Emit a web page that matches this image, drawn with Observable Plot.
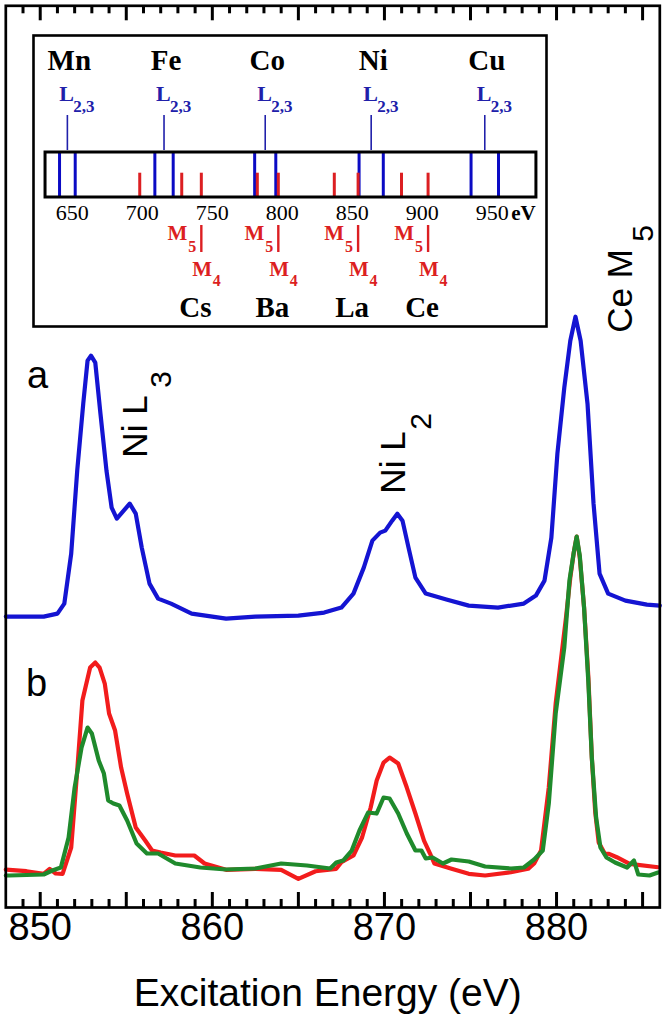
<!DOCTYPE html>
<html><head><meta charset="utf-8">
<script src="https://cdn.jsdelivr.net/npm/d3@7"></script>
<script src="https://cdn.jsdelivr.net/npm/@observablehq/plot@0.6"></script>
<style>
body{margin:0;background:#fff}
#wrap{position:relative;width:668px;height:1020px;overflow:hidden}
#wrap svg{position:absolute;left:0;top:0;display:block}
</style></head><body><div id="wrap"></div>
<script>
// ---- spectra: [energy (eV), intensity (arb.)] ----
const curveA = [[848.0,291],[848.2,291],[850.2,291],[851.0,294],[851.4,304],[851.8,354],[852.15,437],[852.5,504],[852.75,547],[852.95,552],[853.2,545],[853.5,494],[853.85,437],[854.15,400],[854.45,389],[854.75,395],[855.2,404],[855.55,394],[855.9,360],[856.35,324],[856.85,309],[857.6,304],[858.8,294],[860.8,289],[862.5,291],[865.0,292],[866.5,295],[867.5,300],[868.2,314],[868.8,340],[869.3,367],[869.75,375],[870.05,377],[870.45,387],[870.75,394],[871.05,387],[871.4,360],[871.8,330],[872.4,314],[873.6,308],[874.9,302],[876.6,300],[878.1,304],[878.8,312],[879.3,327],[879.7,370],[880.05,454],[880.45,520],[880.8,567],[881.1,591],[881.4,567],[881.8,504],[882.15,404],[882.5,334],[883.0,314],[884.0,307],[885.25,303],[886.0,302]];
const curveBred = [[848.0,38],[848.2,37.7],[849.2,36.3],[850.2,33.7],[850.55,38.7],[850.9,34],[851.3,33.7],[851.8,60],[852.15,137],[852.45,207],[852.9,240],[853.2,245],[853.45,240],[853.75,224],[854.0,194],[854.35,177],[854.7,140],[855.05,114],[855.55,80],[856.1,67],[856.5,57],[857.0,55],[857.85,52],[858.95,52],[859.55,44],[860.8,37.7],[862.5,38.7],[864.0,37.7],[865.0,28.7],[866.0,36.3],[867.2,38.7],[867.5,45.3],[868.2,52],[868.7,70],[869.2,100],[869.55,127],[869.95,145],[870.3,150],[870.8,144],[871.3,120],[871.8,94],[872.3,67],[872.65,54],[872.9,44],[873.9,38.7],[874.9,33.7],[875.85,32],[877.35,35.3],[878.35,38.7],[878.7,44],[879.1,57],[879.55,120],[879.95,204],[880.3,254],[880.55,290],[880.8,330],[881.0,355],[881.17,371],[881.35,350],[881.6,300],[881.85,230],[882.05,150],[882.25,95],[882.45,65],[882.8,54],[883.05,53.7],[883.5,50.3],[884.25,43.7],[885.9,40.3]];
const curveBgreen = [[848.0,32],[848.2,32],[850.2,33],[850.7,37],[851.2,40],[851.65,70],[852.0,120],[852.4,160],[852.75,180],[853.0,174],[853.4,147],[853.7,134],[853.95,107],[854.25,104],[854.6,102],[855.05,87],[855.6,64],[856.2,54],[856.85,54],[857.85,44],[859.3,40],[860.8,38],[862.5,39],[864.0,44],[865.5,42],[866.85,39],[867.2,45],[867.6,47],[868.1,57],[868.55,77],[869.05,95],[869.55,94],[869.95,110],[870.3,109],[870.8,94],[871.3,74],[871.8,57],[872.15,57],[872.4,49],[872.8,50],[873.4,44],[873.9,48],[874.9,46],[875.85,41],[877.35,39],[878.1,40],[878.7,48],[879.2,57],[879.55,104],[879.95,194],[880.45,260],[880.75,327],[881.0,355],[881.17,371],[881.35,352],[881.6,300],[881.85,225],[882.05,150],[882.3,90],[882.55,60],[882.9,50],[883.4,45],[884.1,40],[884.5,47],[884.75,33],[885.4,32],[885.9,35]];

// ---- main axis ----
const xDomain = [848, 886];
const yDomain = [0, 902];
const tickLabels = [850, 860, 870, 880];
const majorTicks = [850, 855, 860, 865, 870, 875, 880, 885];
const minorTicks = [849, 851, 852, 853, 854, 856, 857, 858, 859, 861, 862, 863, 864, 866, 867, 868, 869, 871, 872, 873, 874, 876, 877, 878, 879, 881, 882, 883, 884];
const axisTitle = "Excitation Energy (eV)";
const panelLabels = [{e: 849.23, v: 520, t: "a"}, {e: 849.17, v: 212, t: "b"}];
const peakLabels = [{e: 856.23, v: 450, t: "Ni L"}, {e: 871.17, v: 414, t: "Ni L"}, {e: 884.36, v: 575, t: "Ce M"}];
const peakSubs = [{e: 857.57, v: 520, t: "3"}, {e: 872.68, v: 478, t: "2"}, {e: 885.58, v: 666, t: "5"}];

// ---- inset: absorption edges ----
const tmNames = ["Mn", "Fe", "Co", "Ni", "Cu"];
const tmL3 = [638.7, 706.8, 778.1, 852.7, 932.7];
const tmL2 = [649.9, 719.9, 793.2, 870.0, 952.3];
const reNames = ["Cs", "Ba", "La", "Ce"];
const reM5 = [726, 780, 835, 883];
const reM4 = [740, 795, 852, 902];
const extraM = [696];
const insetTicks = [650, 700, 750, 800, 850, 900, 950];
const barSpan = [628.7, 979.4];

const sans = "'Liberation Sans', Arial, Helvetica, sans-serif";
const serif = "'Liberation Serif', 'Times New Roman', Times, serif";
const cBlue = "#1414d2", cRed = "#f21c1c", cGreen = "#1f8a2c";
const cEdgeBlue = "#0b0bc4", cTextBlue = "#2020aa", cEdgeRed = "#dc1f22";
const cTick = "#000";

const yTop = yDomain[1];
const main = Plot.plot({
  width: 668, height: 1020,
  marginTop: 5.3, marginBottom: 113, marginLeft: 5.3, marginRight: 8.7,
  x: {domain: xDomain, axis: null},
  y: {domain: yDomain, axis: null},
  style: {fontFamily: sans, background: "white", color: "black"},
  marks: [
    Plot.line(curveBred, {x: d => d[0], y: d => d[1], stroke: cRed, strokeWidth: 4.2, strokeLinejoin: "round"}),
    Plot.line(curveBgreen, {x: d => d[0], y: d => d[1], stroke: cGreen, strokeWidth: 4.2, strokeLinejoin: "round"}),
    Plot.line(curveA, {x: d => d[0], y: d => d[1], stroke: cBlue, strokeWidth: 4.2, strokeLinejoin: "round"}),
    Plot.frame({stroke: "#000", strokeWidth: 2.7}),
    Plot.ruleX(minorTicks, {x: d => d, y1: 0, y2: 8, stroke: cTick, strokeWidth: 3}),
    Plot.ruleX(minorTicks, {x: d => d, y1: yTop - 8, y2: yTop, stroke: cTick, strokeWidth: 3}),
    Plot.ruleX(majorTicks, {x: d => d, y1: 0, y2: 15, stroke: cTick, strokeWidth: 3}),
    Plot.ruleX(majorTicks, {x: d => d, y1: yTop - 15, y2: yTop, stroke: cTick, strokeWidth: 3}),
    Plot.text(tickLabels, {x: d => d, text: d => String(d), frameAnchor: "bottom", dy: 6, lineAnchor: "top", fontSize: 38, fill: "#000"}),
    Plot.text([axisTitle], {text: d => d, frameAnchor: "bottom", dy: 98, dx: -5, lineAnchor: "bottom", fontSize: 39, fill: "#000"}),
    Plot.text(panelLabels, {x: "e", y: "v", text: "t", textAnchor: "start", lineAnchor: "bottom", fontSize: 38, fill: "#000"}),
    Plot.text(peakLabels, {x: "e", y: "v", text: "t", rotate: -90, textAnchor: "start", lineAnchor: "bottom", fontSize: 35, fill: "#000"}),
    Plot.text(peakSubs, {x: "e", y: "v", text: "t", rotate: -90, textAnchor: "start", lineAnchor: "bottom", fontSize: 30, fill: "#000"})
  ]
});

const stick = i => (tmL3[i] + tmL2[i]) / 2;
const idx5 = d3.range(tmNames.length);
const idx4 = d3.range(reNames.length);
const bold = {fontWeight: "bold", lineAnchor: "bottom"};

const inset = Plot.plot({
  width: 668, height: 340,
  marginTop: 35, marginBottom: 14, marginLeft: 33, marginRight: 122,
  x: {domain: [620.1, 986.6], range: [33, 546], axis: null},
  y: {domain: [0, 291], range: [35, 326], axis: null},
  style: {fontFamily: serif, background: "none", overflow: "visible"},
  marks: [
    Plot.frame({fill: "white", stroke: "#000", strokeWidth: 2.6}),
    Plot.ruleX(tmL3.concat(tmL2), {x: d => d, y1: 117, y2: 162, stroke: cEdgeBlue, strokeWidth: 3}),
    Plot.ruleX(extraM.concat(reM5, reM4), {x: d => d, y1: 137.7, y2: 162, stroke: cEdgeRed, strokeWidth: 3}),
    Plot.rect([barSpan], {x1: d => d[0], x2: d => d[1], y1: 117, y2: 162, fill: "none", stroke: "#000", strokeWidth: 3}),
    Plot.ruleX(idx5, {x: i => stick(i), y1: 80, y2: 115, stroke: cTextBlue, strokeWidth: 1.6}),
    Plot.text(idx5, {x: i => stick(i), y: 34.3, text: i => tmNames[i], dx: 2, fontSize: 29, fill: "#000", textAnchor: "middle", ...bold}),
    Plot.text(idx5, {x: i => stick(i), y: 65.7, text: () => "L", dx: -8, fontSize: 22, fill: cTextBlue, textAnchor: "start", ...bold}),
    Plot.text(idx5, {x: i => stick(i), y: 76, text: () => "2,3", dx: 6, fontSize: 17, fill: cTextBlue, textAnchor: "start", ...bold}),
    Plot.text(insetTicks, {x: d => d, y: 184, text: d => String(d), dx: -3, fontSize: 22, fill: "#000", textAnchor: "middle", lineAnchor: "bottom"}),
    Plot.text([insetTicks[insetTicks.length - 1]], {x: d => d, y: 184, text: () => "eV", dx: 16, fontSize: 21, fill: "#000", textAnchor: "start", ...bold}),
    Plot.ruleX(reM4, {x: d => d, y1: 190, y2: 217, stroke: cEdgeRed, strokeWidth: 2.4}),
    Plot.text(idx4, {x: i => reM4[i], y: 204, text: () => "M", dx: -14, fontSize: 21, fill: cEdgeRed, textAnchor: "end", ...bold}),
    Plot.text(idx4, {x: i => reM4[i], y: 216, text: () => "5", dx: -13, fontSize: 16, fill: cEdgeRed, textAnchor: "start", ...bold}),
    Plot.text(idx4, {x: i => reM4[i], y: 240, text: () => "M", dx: -9, fontSize: 21, fill: cEdgeRed, textAnchor: "start", ...bold}),
    Plot.text(idx4, {x: i => reM4[i], y: 250, text: () => "4", dx: 11.5, fontSize: 16, fill: cEdgeRed, textAnchor: "start", ...bold}),
    Plot.text(idx4, {x: i => reM4[i], y: 281.7, text: i => reNames[i], dx: -6, fontSize: 29, fill: "#000", textAnchor: "middle", ...bold})
  ]
});

const wrap = document.getElementById("wrap");
wrap.appendChild(main);
wrap.appendChild(inset);
</script></body></html>
